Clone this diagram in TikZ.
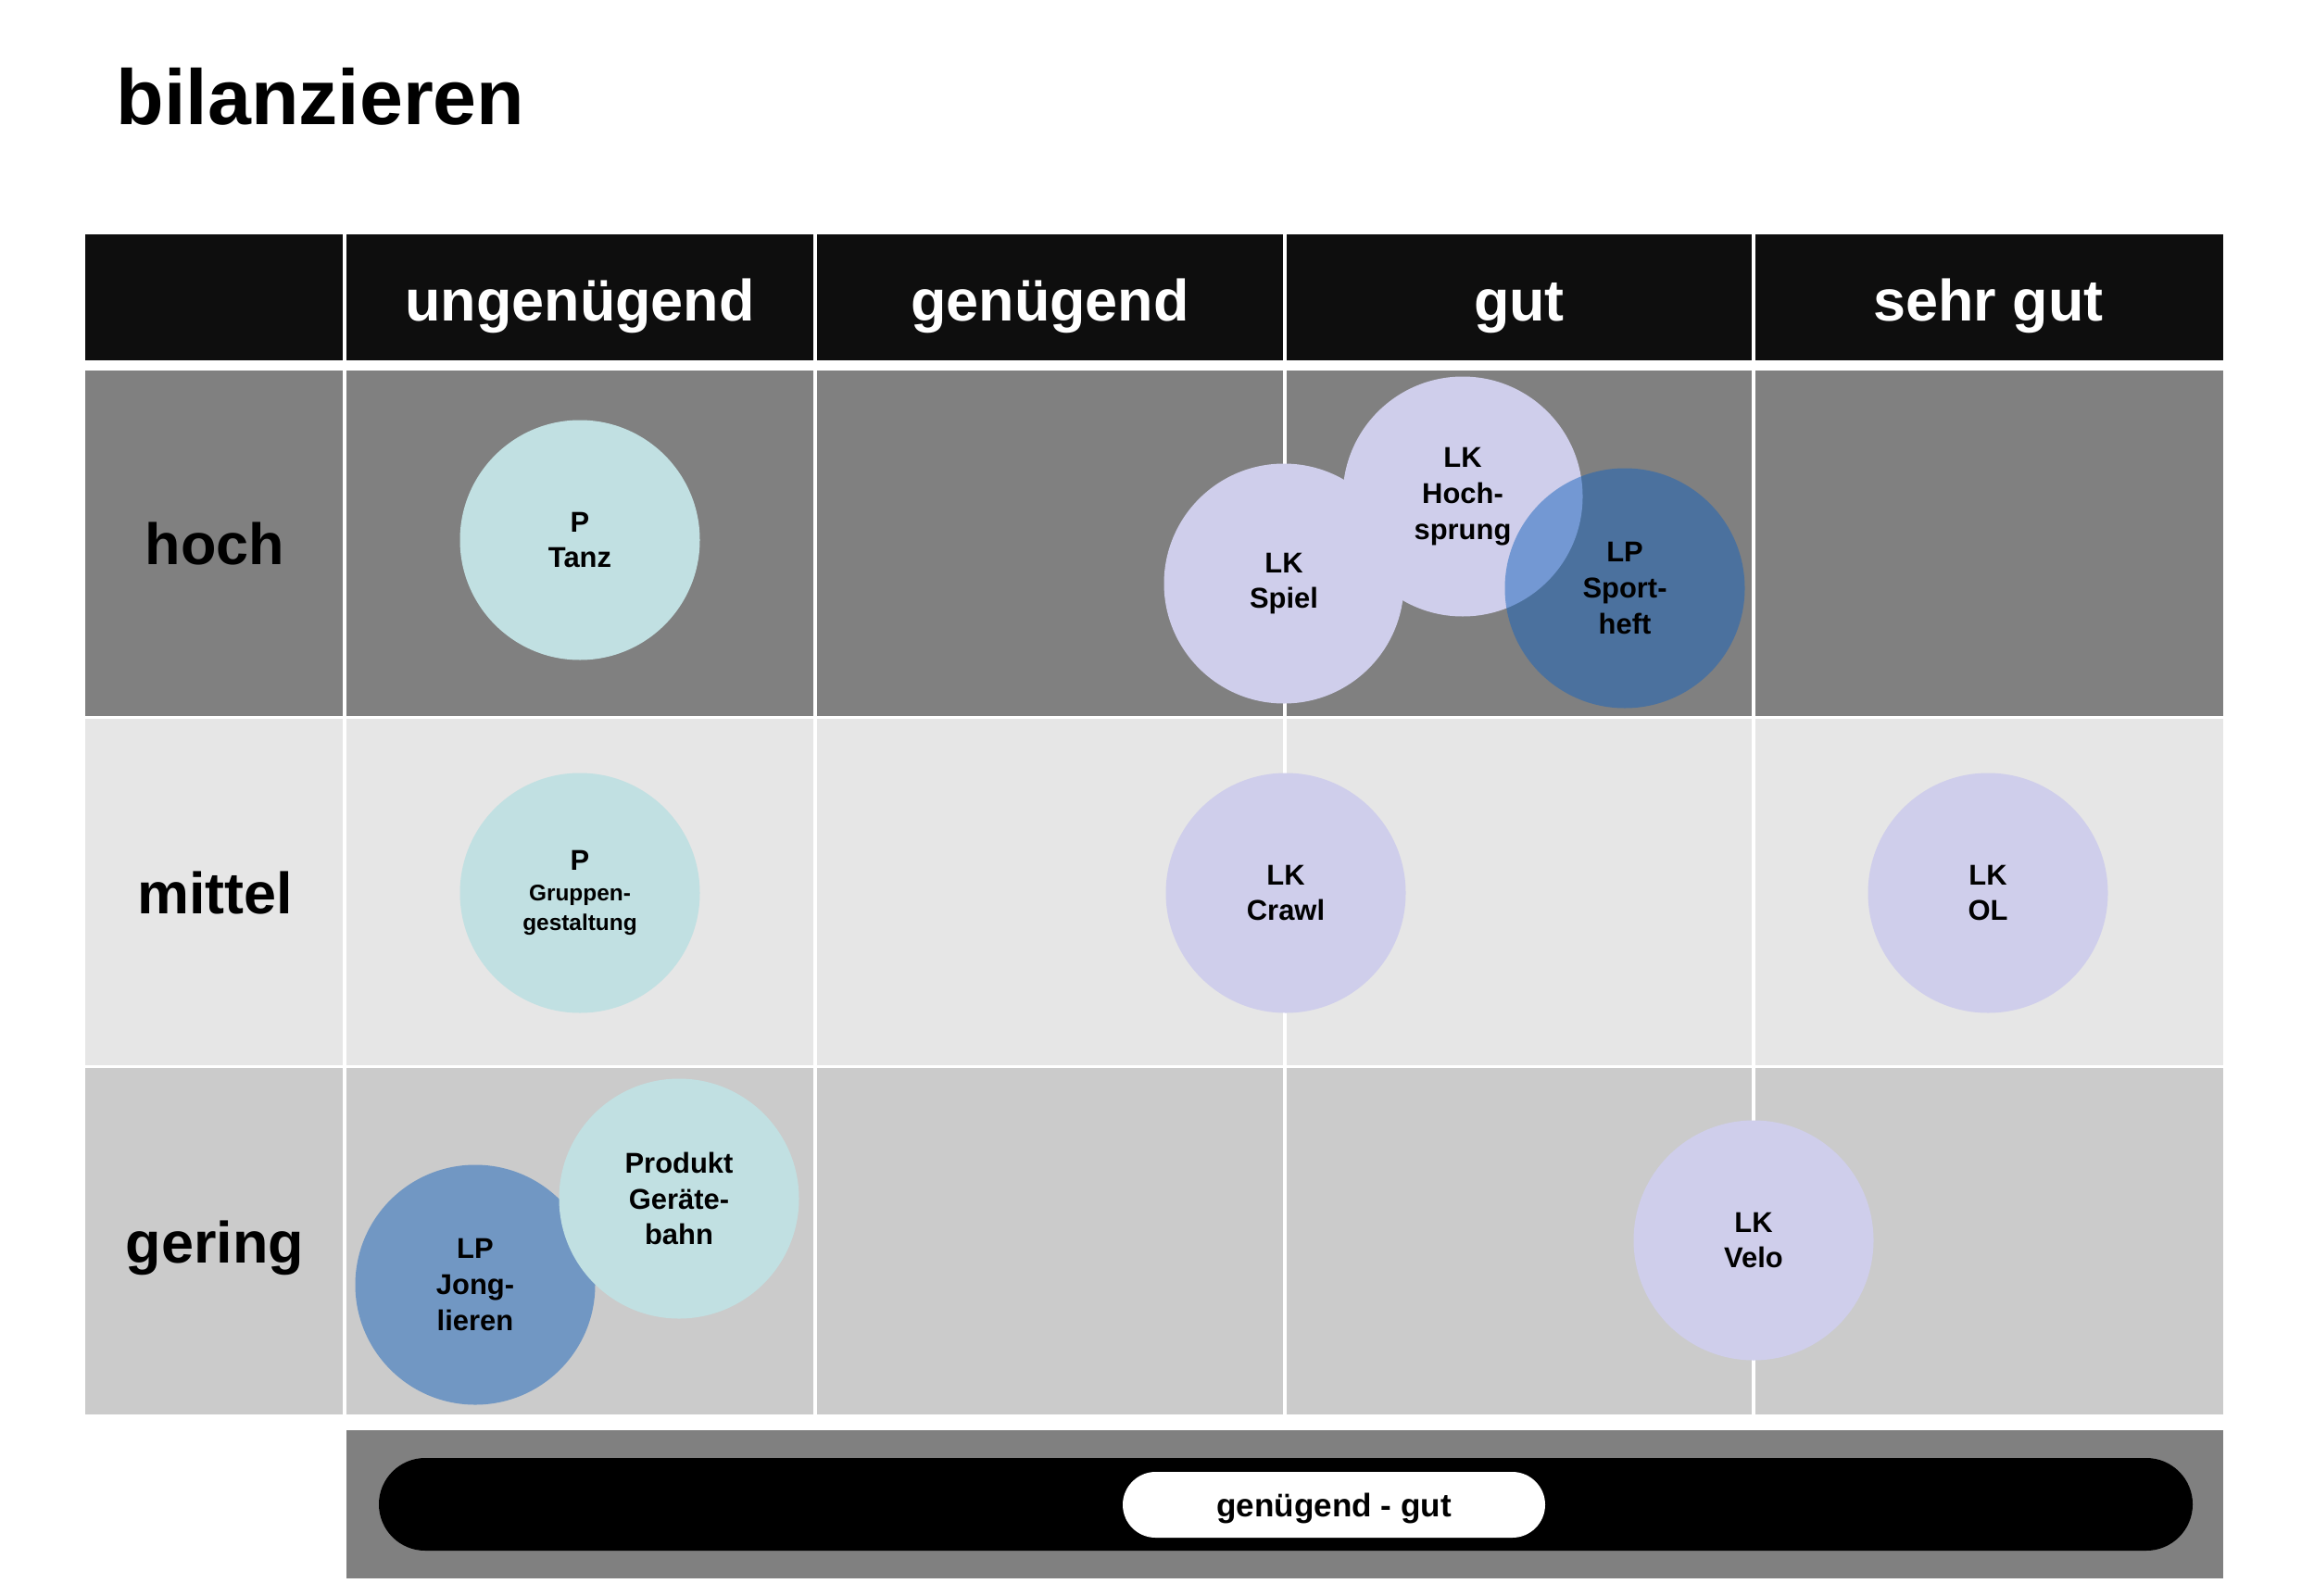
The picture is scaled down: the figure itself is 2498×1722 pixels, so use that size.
\documentclass[tikz,border=0pt]{standalone}
\usepackage{fontspec}
\setmainfont{Liberation Sans}

\definecolor{headbg}{HTML}{0E0E0E}
\definecolor{hochbg}{HTML}{808080}
\definecolor{mittelbg}{HTML}{E6E6E6}
\definecolor{geringbg}{HTML}{CBCBCB}
\definecolor{prodcol}{HTML}{C1E0E2}
\definecolor{lkcol}{HTML}{CFCEEB}
\definecolor{lpcol}{HTML}{1864BC}

\newcommand{\smalltxt}{\fontsize{6.95}{8.5}\selectfont}

\tikzset{
	grade/.style={anchor=base, inner sep=0pt, text=white, font=\fontsize{17.9}{21}\selectfont\bfseries},
	level/.style={anchor=base, inner sep=0pt, font=\fontsize{17.9}{21}\selectfont\bfseries},
	bubble/.style={circle, minimum size=25.9mm, inner sep=0pt, align=center, font=\fontsize{8.8}{11}\selectfont\bfseries},
	lk/.style={bubble, fill=lkcol},
	lp/.style={bubble, fill=lpcol, fill opacity=0.5, text opacity=1},
	prod/.style={bubble, fill=prodcol},
}

\begin{document}
\begin{tikzpicture}[x=0.1mm, y=-0.1mm]
	
	\useasboundingbox (0,0) rectangle (2498,1722);
	
	\node[anchor=base west, inner sep=0pt, font=\fontsize{24}{28}\selectfont\bfseries] (title) at (125,135) {bilanzieren};
	
	% table
	\fill[headbg] (92,253) rectangle (2400,389);
	\fill[hochbg] (92,400) rectangle (2400,774.5);
	\fill[mittelbg] (92,774.5) rectangle (2400,1151.5);
	\fill[geringbg] (92,1151.5) rectangle (2400,1527);
	
	\foreach \x in {372, 880, 1387, 1893}
		\draw[white, line width=1pt] (\x,253) -- (\x,1527);
	\foreach \y in {774.5, 1151.5}
		\draw[white, line width=1pt] (92,\y) -- (2400,\y);
	
	\node[grade] (ungenuegend) at (626,346) {ungenügend};
	\node[grade] (genuegend) at (1133.5,346) {genügend};
	\node[grade] (gut) at (1640,346) {gut};
	\node[grade] (sehrgut) at (2146.5,346) {sehr gut};
	
	\node[level] (hoch) at (232,609) {hoch};
	\node[level] (mittel) at (232,986.5) {mittel};
	\node[level] (gering) at (232,1363.5) {gering};
	
	% bubbles
	\node[prod] (tanz) at (626,583) {P\\Tanz};
	\node[lk] (spiel) at (1386,630) {LK\\Spiel};
	\node[lk] (hochsprung) at (1579,536) {LK\\Hoch-\\sprung};
	\node[lp] (sportheft) at (1754,635) {LP\\Sport-\\heft};
	
	\node[prod] (gruppen) at (626,964) {P\\[-1.4pt]\smalltxt Gruppen-\\[-1.9pt]\smalltxt gestaltung};
	\node[lk] (crawl) at (1388,964) {LK\\Crawl};
	\node[lk] (ol) at (2146,964) {LK\\OL};
	
	\node[lp] (jonglieren) at (513,1387) {LP\\Jong-\\lieren};
	\node[prod] (produkt) at (733,1294) {Produkt\\Geräte-\\bahn};
	\node[lk] (velo) at (1893,1339) {LK\\Velo};
	
	% range bar
	\fill[hochbg] (374,1544) rectangle (2400,1704);
	\fill[black, rounded corners=5mm] (409,1574) rectangle (2367,1674);
	\node[fill=white, rounded corners=3.55mm, minimum width=45.6mm, minimum height=7.1mm, text depth=0pt, font=\fontsize{10}{12}\selectfont\bfseries] (range) at (1440,1624.5) {genügend - gut};
	
\end{tikzpicture}
\end{document}
